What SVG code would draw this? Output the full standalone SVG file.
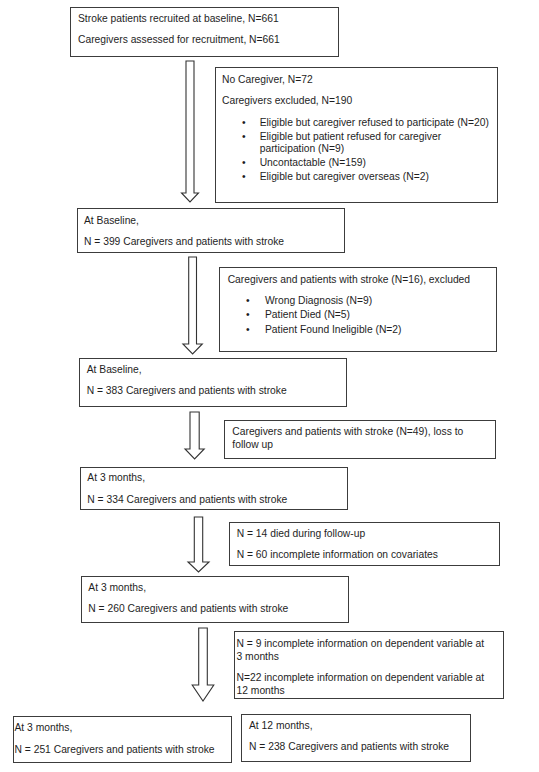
<svg xmlns="http://www.w3.org/2000/svg" width="539" height="772" viewBox="0 0 539 772">
<style>
.box{fill:#fff;stroke:#3c3c3c;stroke-width:1}
.arr{fill:#fff;stroke:#333;stroke-width:1.1;stroke-linejoin:miter}
text{font-family:"Liberation Sans",Arial,sans-serif;font-size:10.3px;fill:#1e1e1e}
</style>
<rect width="539" height="772" fill="#fff"/>
<g id="connectors">
<path class="arr" d="M186,61 H194 V193 H198.5 L190,202 L181.5,193 H186 Z"/>
<path class="arr" d="M188.7,257 H196.5 V344 H202.3 L192.6,354 L182.9,344 H188.7 Z"/>
<path class="arr" d="M190,412 H199.2 V449 H204.2 L194.6,459 L185,449 H190 Z"/>
<path class="arr" d="M194.3,517 H202.7 V562 H209 L198.5,572 L188,562 H194.3 Z"/>
<path class="arr" d="M198.7,628 H207.3 V685 H213.8 L203,701 L192.2,685 H198.7 Z"/>
</g>
<g id="n1">
<rect class="box" x="70.5" y="7.5" width="268" height="49"/>
<text x="78" y="21.5">Stroke patients recruited at baseline, N=661</text>
<text x="78" y="43">Caregivers assessed for recruitment, N=661</text>
</g>
<g id="n2">
<rect class="box" x="215.5" y="67.5" width="282" height="135"/>
<text x="222" y="83">No Caregiver, N=72</text>
<text x="222" y="104">Caregivers excluded, N=190</text>
<text x="242" y="125.5">•</text>
<text x="259.7" y="125.5">Eligible but caregiver refused to participate (N=20)</text>
<text x="242" y="139.5">•</text>
<text x="259.7" y="139.5">Eligible but patient refused for caregiver</text>
<text x="259.7" y="151.5">participation (N=9)</text>
<text x="242" y="166">•</text>
<text x="259.7" y="166">Uncontactable (N=159)</text>
<text x="242" y="179.5">•</text>
<text x="259.7" y="179.5">Eligible but caregiver overseas (N=2)</text>
</g>
<g id="n3">
<rect class="box" x="77.5" y="208.5" width="267" height="44"/>
<text x="84" y="224">At Baseline,</text>
<text x="84" y="245">N = 399 Caregivers and patients with stroke</text>
</g>
<g id="n4">
<rect class="box" x="219.5" y="267.5" width="277" height="84"/>
<text x="227.7" y="283">Caregivers and patients with stroke (N=16), excluded</text>
<text x="246" y="304">•</text>
<text x="265" y="304">Wrong Diagnosis (N=9)</text>
<text x="246" y="318">•</text>
<text x="265" y="318">Patient Died (N=5)</text>
<text x="246" y="332.5">•</text>
<text x="265" y="332.5">Patient Found Ineligible (N=2)</text>
</g>
<g id="n5">
<rect class="box" x="79.5" y="358.5" width="267" height="48"/>
<text x="86.7" y="373">At Baseline,</text>
<text x="86.7" y="394">N = 383 Caregivers and patients with stroke</text>
</g>
<g id="n6">
<rect class="box" x="224.5" y="420.5" width="271" height="38"/>
<text x="232.3" y="435">Caregivers and patients with stroke (N=49), loss to</text>
<text x="232.3" y="447.5">follow up</text>
</g>
<g id="n7">
<rect class="box" x="80.5" y="467.5" width="267" height="42"/>
<text x="87.3" y="481">At 3 months,</text>
<text x="87.3" y="502.5">N = 334 Caregivers and patients with stroke</text>
</g>
<g id="n8">
<rect class="box" x="229.5" y="522.5" width="270" height="43"/>
<text x="236.7" y="537">N = 14 died during follow-up</text>
<text x="236.7" y="557.5">N = 60 incomplete information on covariates</text>
</g>
<g id="n9">
<rect class="box" x="81.5" y="576.5" width="267" height="46"/>
<text x="88.3" y="591">At 3 months,</text>
<text x="88.3" y="612">N = 260 Caregivers and patients with stroke</text>
</g>
<g id="n10">
<rect class="box" x="234.5" y="631.5" width="269" height="67"/>
<text x="236.5" y="647">N = 9 incomplete information on dependent variable at</text>
<text x="236.5" y="660">3 months</text>
<text x="236.5" y="681">N=22 incomplete information on dependent variable at</text>
<text x="236.5" y="693.5">12 months</text>
</g>
<g id="n11">
<rect class="box" x="13.5" y="716.5" width="218" height="46"/>
<text x="14.5" y="731">At 3 months,</text>
<text x="14.5" y="752.5">N = 251 Caregivers and patients with stroke</text>
</g>
<g id="n12">
<rect class="box" x="241.5" y="714.5" width="229" height="47"/>
<text x="249" y="728.5">At 12 months,</text>
<text x="249" y="750">N = 238 Caregivers and patients with stroke</text>
</g>
</svg>
